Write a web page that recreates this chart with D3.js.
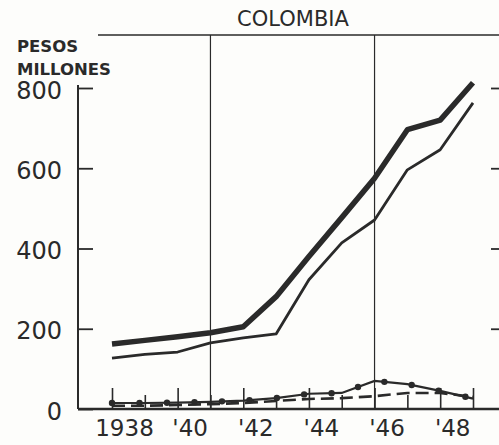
<!DOCTYPE html>
<html>
<head>
<meta charset="utf-8">
<script src="https://cdn.jsdelivr.net/npm/d3@7"></script>
<style>
  html, body { margin: 0; padding: 0; background: #fdfdfb; }
  svg { display: block; font-family: "DejaVu Sans", sans-serif; }
</style>
</head>
<body>
<div id="chart"></div>
<script>
// Datos (millones de pesos)
const years = [1938, 1939, 1940, 1941, 1942, 1943, 1944, 1945, 1946, 1947, 1948, 1949];
const totalSerie = [162, 171, 180, 190, 205, 280, 380, 477, 575, 696, 720, 813];
const segundaSerie = [127, 136, 142, 165, 177, 187, 322, 414, 471, 596, 646, 763];
const puntosSerie = [15, 15, 16, 18, 21, 27, 38, 40, 70, 62, 45, 26];
const guionesSerie = [8, 8, 10, 12, 15, 20, 25, 27, 32, 40, 40, 30];
const yTicks = [0, 200, 400, 600, 800];
const xLabels = { 1938: "1938", 1940: "'40", 1942: "'42", 1944: "'44", 1946: "'46", 1948: "'48" };
const lineasVerticales = [1941, 1946];

const width = 499;
const height = 445;
const ink = "#2a2a2a";

const svg = d3.select("#chart")
    .append("svg")
    .attr("width", width)
    .attr("height", height);

const x = d3.scaleLinear().domain([1938, 1949]).range([112, 473]);
const y = d3.scaleLinear().domain([0, 800]).range([409, 88]);

// Titulo y unidades
svg.append("text")
    .attr("x", 293).attr("y", 26)
    .attr("text-anchor", "middle")
    .attr("font-size", 21)
    .attr("fill", ink)
    .text("COLOMBIA");

svg.append("text")
    .attr("x", 17).attr("y", 52)
    .attr("font-size", 16.5).attr("font-weight", "bold")
    .attr("fill", ink)
    .text("PESOS");

svg.append("text")
    .attr("x", 17).attr("y", 75)
    .attr("font-size", 16.5).attr("font-weight", "bold")
    .attr("fill", ink)
    .text("MILLONES");

// Linea superior del marco
svg.append("line")
    .attr("x1", 98).attr("x2", width)
    .attr("y1", 35).attr("y2", 35)
    .attr("stroke", ink).attr("stroke-width", 1.5);

// Lineas verticales
svg.selectAll(".vline")
    .data(lineasVerticales)
    .enter().append("line")
    .attr("class", "vline")
    .attr("x1", d => x(d)).attr("x2", d => x(d))
    .attr("y1", 35).attr("y2", y(0))
    .attr("stroke", ink).attr("stroke-width", 1.2);

// Eje Y izquierdo
const yAxis = svg.append("g")
    .attr("transform", "translate(78,0)")
    .call(d3.axisLeft(y).tickValues(yTicks).tickSize(-15).tickPadding(16));
yAxis.select(".domain").remove();
yAxis.append("line")
    .attr("y1", y(0)).attr("y2", 85)
    .attr("stroke", ink).attr("stroke-width", 2);
yAxis.selectAll(".tick line").attr("stroke", ink).attr("stroke-width", 1.8);
yAxis.selectAll(".tick text")
    .attr("fill", ink)
    .attr("font-size", 24)
    .attr("font-family", "DejaVu Sans, sans-serif")
    .attr("dy", "0.42em");

// Marcas del lado derecho
const yRight = svg.append("g")
    .attr("transform", `translate(${width},0)`)
    .call(d3.axisLeft(y).tickValues(yTicks.filter(d => d > 0)).tickSize(8).tickFormat(""));
yRight.select(".domain").remove();
yRight.selectAll(".tick line").attr("stroke", ink).attr("stroke-width", 1.8);

// Eje X
const xAxis = svg.append("g")
    .attr("transform", `translate(0,${y(0)})`)
    .call(d3.axisBottom(x).tickValues(years).tickSize(-14).tickPadding(11)
        .tickFormat(d => xLabels[d] || ""));
xAxis.select(".domain").remove();
xAxis.append("line")
    .attr("x1", 78).attr("x2", width)
    .attr("stroke", ink).attr("stroke-width", 2.5);
xAxis.selectAll(".tick line")
    .attr("stroke", ink).attr("stroke-width", 1.6)
    .attr("y2", d => (d % 2 === 0 || d === 1949) ? -21 : -14);
xAxis.selectAll(".tick text")
    .attr("fill", ink)
    .attr("font-size", 23)
    .attr("font-family", "DejaVu Sans, sans-serif")
    .attr("dx", 12);

// Lineas de datos
const line = d3.line()
    .x((d, i) => x(years[i]))
    .y(d => y(d));

svg.append("path")
    .datum(totalSerie)
    .attr("d", line)
    .attr("fill", "none")
    .attr("stroke", ink)
    .attr("stroke-width", 5.5)
    .attr("stroke-linejoin", "round");

svg.append("path")
    .datum(segundaSerie)
    .attr("d", line)
    .attr("fill", "none")
    .attr("stroke", ink)
    .attr("stroke-width", 2.8)
    .attr("stroke-linejoin", "round");

svg.append("path")
    .datum(guionesSerie)
    .attr("d", line)
    .attr("fill", "none")
    .attr("stroke", ink)
    .attr("stroke-width", 2.6)
    .attr("stroke-dasharray", "13,6");

const puntosPath = svg.append("path")
    .datum(puntosSerie)
    .attr("d", line)
    .attr("fill", "none")
    .attr("stroke", ink)
    .attr("stroke-width", 2.2);

// Cuentas sobre la linea punteada, a intervalos regulares
const node = puntosPath.node();
const largo = node.getTotalLength();
const cuentas = d3.range(0, largo, 27.5).map(l => node.getPointAtLength(l));
svg.selectAll(".cuenta")
    .data(cuentas)
    .enter().append("circle")
    .attr("class", "cuenta")
    .attr("cx", d => d.x)
    .attr("cy", d => d.y)
    .attr("r", 3.2)
    .attr("fill", ink);
</script>
</body>
</html>
